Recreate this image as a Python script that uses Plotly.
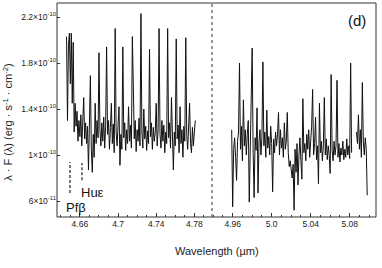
import plotly.graph_objects as go

# ---- data (flux in units of 1e-10 erg s^-1 cm^-2) ----
wl_left_start = 4.646
wl_right_start = 4.959
wl_step = 0.001

flux_left = [
    2.03, 1.30, 1.95, 2.06, 1.62, 2.06, 1.45, 1.98, 1.20, 1.45,
    1.25, 1.38, 1.12, 1.30, 1.16, 1.35, 1.08, 1.27, 1.50, 1.14,
    1.28, 1.10, 1.25, 0.87, 1.20, 1.69, 1.05, 0.85, 1.18, 0.98,
    1.45, 1.10, 1.30, 1.15, 1.89, 1.22, 1.08, 1.28, 1.12, 1.33,
    1.06, 1.25, 1.94, 1.18, 1.30, 1.05, 1.24, 1.45, 1.10, 1.27,
    1.02, 2.10, 1.20, 1.08, 1.26, 1.42, 0.91, 1.18, 1.05, 1.94,
    1.15, 1.28, 1.04, 1.22, 1.10, 1.42, 1.12, 1.26, 1.06, 2.03,
    1.61, 1.14, 1.30, 1.03, 1.22, 1.12, 1.32, 1.08, 2.23, 1.20,
    1.06, 1.40, 1.14, 1.25, 1.04, 1.21, 1.10, 1.92, 1.16, 1.28,
    1.05, 1.24, 1.12, 1.20, 1.45, 1.08, 1.22, 2.10, 1.18, 1.06,
    1.30, 1.12, 1.26, 1.02, 1.20, 1.10, 2.10, 1.15, 1.28, 1.06,
    1.50, 1.12, 0.87, 1.20, 1.08, 2.01, 1.14, 1.26, 1.02, 1.42,
    1.10, 1.22, 0.98, 1.25, 1.12, 2.02, 1.18, 1.05, 1.28, 1.45,
    1.10, 1.02, 1.24, 1.08, 1.20, 1.30,
]

flux_right = [
    1.22, 0.55, 1.05, 1.15, 0.98, 0.78, 1.12, 1.20, 1.80, 1.05,
    1.25, 0.95, 1.48, 1.08, 1.22, 1.00, 1.18, 1.30, 0.59, 1.10,
    1.25, 1.93, 1.02, 0.63, 1.15, 1.04, 1.41, 0.67, 1.12, 1.22,
    1.00, 1.15, 1.81, 1.08, 1.20, 0.98, 1.39, 1.06, 1.16, 1.00,
    1.25, 1.10, 0.68, 1.14, 1.02, 1.20, 1.08, 1.18, 1.37, 1.00,
    1.22, 1.06, 1.15, 0.98, 1.28, 1.05, 1.12, 1.37, 1.02, 0.90,
    0.95, 0.88, 0.80, 0.92, 0.52, 1.05, 0.85, 1.10, 0.74, 1.00,
    1.15, 0.95, 0.79, 1.49, 1.02, 1.10, 0.95, 1.18, 1.05, 1.22,
    0.98, 1.12, 1.25, 1.57, 1.00, 1.10, 1.33, 0.96, 1.08, 0.75,
    1.45, 1.02, 1.12, 0.95, 1.08, 1.50, 1.00, 1.14, 0.96, 1.08,
    1.00, 0.84, 1.70, 1.04, 0.95, 1.12, 1.00, 1.08, 1.65, 0.98,
    1.10, 0.94, 1.06, 1.00, 1.12, 0.96, 1.05, 0.98, 1.14, 1.00,
    1.08, 0.97, 1.80, 1.02, None, None, None, None, 1.20, 1.10,
    1.35, 1.05, 1.22, 0.98, 1.63, 1.12, 1.00, 1.15, 1.05, 0.65,
]

wl_left = [round(wl_left_start + wl_step * i, 4) for i in range(len(flux_left))]
wl_right = [round(wl_right_start + wl_step * i, 4) for i in range(len(flux_right))]

x_left_ticks = [4.66, 4.70, 4.74, 4.78]
x_left_labels = ["4.66", "4.7", "4.74", "4.78"]
x_right_ticks = [4.96, 5.00, 5.04, 5.08]
x_right_labels = ["4.96", "5.0", "5.04", "5.08"]
y_ticks = [0.6, 1.0, 1.4, 1.8, 2.2]
y_labels = ["6×10<sup>-11</sup>", "1×10<sup>-10</sup>", "1.4×10<sup>-10</sup>",
            "1.8×10<sup>-10</sup>", "2.2×10<sup>-10</sup>"]

line_names = ["Pfβ", "Huε"]
line_wl = [4.6496, 4.6622]
line_y_top = [0.94, 0.93]
line_y_bot = [0.67, 0.78]

# ---- figure ----
FONT = "Liberation Sans, Arial, sans-serif"
split = 155 / 319

fig = go.Figure()
fig.add_trace(go.Scatter(x=wl_left, y=flux_left, mode="lines", xaxis="x", yaxis="y",
                         line=dict(color="#111111", width=1), showlegend=False))
fig.add_trace(go.Scatter(x=wl_right, y=flux_right, mode="lines", xaxis="x2", yaxis="y",
                         line=dict(color="#111111", width=1), showlegend=False,
                         connectgaps=False))

common_x = dict(ticks="inside", ticklen=4, tickcolor="#333", tickwidth=1,
                showgrid=False, zeroline=False, showline=False, automargin=False,
                tickfont=dict(family=FONT, size=8.5, color="#222"))

fig.update_layout(
    template="none",
    width=382, height=268,
    margin=dict(l=57, r=6, t=3, b=51),
    paper_bgcolor="white", plot_bgcolor="white",
    xaxis=dict(domain=[0, split], range=[4.636, 4.7985], anchor="y",
               tickmode="array", tickvals=x_left_ticks, ticktext=x_left_labels,
               minor=dict(dtick=0.01, tick0=4.66, ticks="inside", ticklen=2.5,
                          tickcolor="#333", showgrid=False),
               **common_x),
    xaxis2=dict(domain=[split, 1], range=[4.9388, 5.107], anchor="y",
                tickmode="array", tickvals=x_right_ticks, ticktext=x_right_labels,
                minor=dict(dtick=0.01, tick0=4.96, ticks="inside", ticklen=2.5,
                           tickcolor="#333", showgrid=False),
                **common_x),
    yaxis=dict(range=[0.461, 2.322], anchor="x", automargin=False,
               tickmode="array", tickvals=y_ticks, ticktext=y_labels,
               ticks="inside", ticklen=3, tickcolor="#333",
               showgrid=False, zeroline=False, showline=False,
               tickfont=dict(family=FONT, size=8.5, color="#222")),
)

# axis titles
fig.add_annotation(text="Wavelength (µm)", xref="paper", yref="paper",
                   x=0.5, y=-0.159, yanchor="middle", showarrow=False,
                   font=dict(family=FONT, size=11, color="#222"))
fig.add_annotation(text="λ · F (λ) (erg · s<sup>-1</sup> · cm<sup>-2</sup>)",
                   xref="paper", yref="paper", x=-0.154, y=0.444, textangle=-90,
                   xanchor="center", yanchor="middle", showarrow=False,
                   font=dict(family=FONT, size=11, color="#222"))

# frame
fig.add_shape(type="rect", xref="paper", yref="paper", x0=0, x1=1, y0=0, y1=1,
              line=dict(color="#333", width=1))
# axis break
fig.add_shape(type="line", xref="paper", yref="paper", x0=split, x1=split, y0=0, y1=1,
              line=dict(color="#777", width=1.5, dash="dot"))

# spectral line markers
for name, wl, yt, yb in zip(line_names, line_wl, line_y_top, line_y_bot):
    fig.add_shape(type="line", xref="x", yref="y", x0=wl, x1=wl, y0=yb, y1=yt,
                  line=dict(color="#222", width=1.2, dash="3px,2px"))

fig.add_annotation(text="Pfβ", xref="x", yref="y", x=line_wl[0], y=0.545,
                   xanchor="left", yanchor="middle", xshift=-6, showarrow=False,
                   font=dict(family=FONT, size=13, color="#111"))
fig.add_annotation(text="Huε", xref="x", yref="y", x=line_wl[1], y=0.675,
                   xanchor="left", yanchor="middle", xshift=-3, showarrow=False,
                   font=dict(family=FONT, size=13, color="#111"))

fig.add_annotation(text="(d)", xref="paper", yref="paper", x=0.975, y=0.965,
                   xanchor="right", yanchor="top", showarrow=False,
                   font=dict(family=FONT, size=15, color="#111"))

fig.write_html("out.html",
               config={"displayModeBar": False},
               post_script="document.body.style.margin='0';document.body.style.padding='0';")
